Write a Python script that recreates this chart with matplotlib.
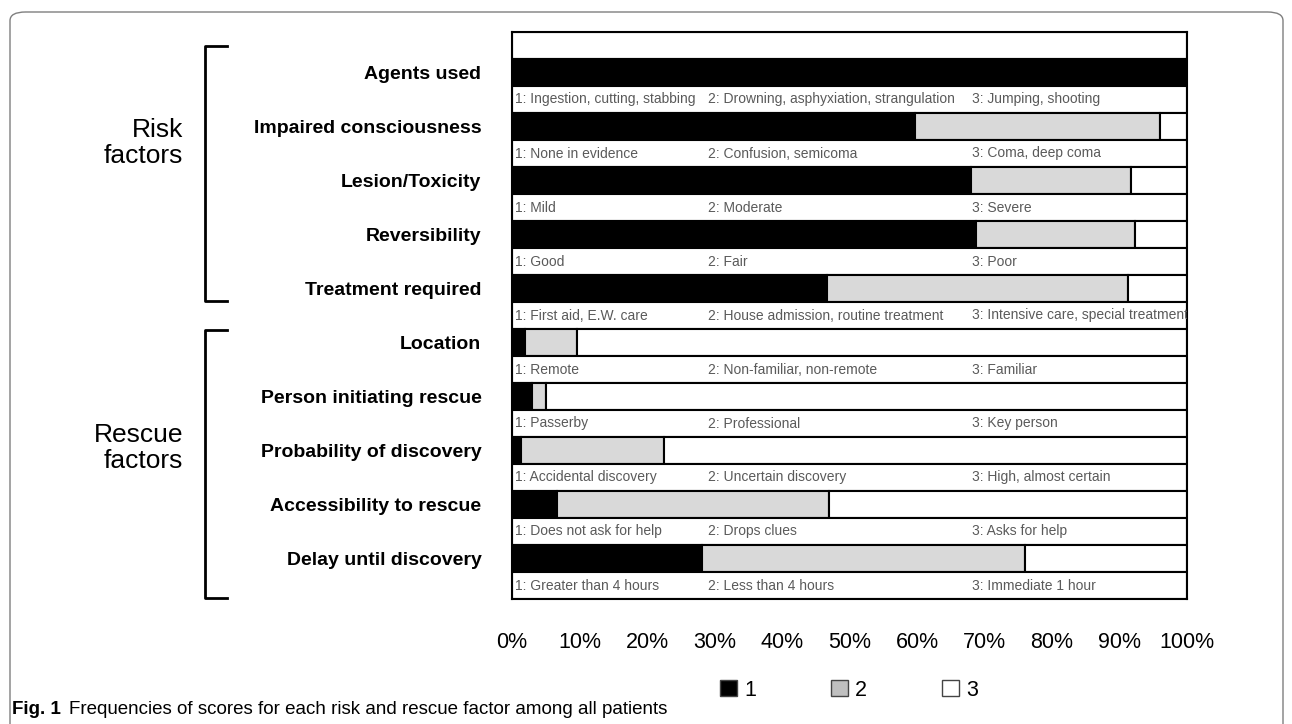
import matplotlib
matplotlib.use('Agg')
import matplotlib.pyplot as plt
import matplotlib.transforms as mtransforms
from matplotlib.patches import Patch, FancyBboxPatch
from matplotlib.lines import Line2D

plt.rcParams['font.family'] = ['Liberation Sans', 'DejaVu Sans']

# factor names (top to bottom)
factors = ['Agents used', 'Impaired consciousness', 'Lesion/Toxicity', 'Reversibility',
           'Treatment required', 'Location', 'Person initiating rescue',
           'Probability of discovery', 'Accessibility to rescue', 'Delay until discovery']
groups = ['Risk\nfactors', 'Rescue\nfactors']
n_risk = 5

# percentage of patients with score 1 / 2 / 3
score1 = [100.0, 59.7, 68.0, 68.7, 46.7, 1.9, 2.9, 1.3, 6.6, 28.1]
score2 = [0.0, 36.3, 23.7, 23.6, 44.6, 7.7, 2.1, 21.2, 40.4, 47.9]
score3 = [0.0, 4.0, 8.3, 7.7, 8.7, 90.4, 95.0, 77.5, 53.0, 24.0]

# meaning of each score, written under every bar
desc1 = ['1: Ingestion, cutting, stabbing', '1: None in evidence', '1: Mild', '1: Good',
         '1: First aid, E.W. care', '1: Remote', '1: Passerby', '1: Accidental discovery',
         '1: Does not ask for help', '1: Greater than 4 hours']
desc2 = ['2: Drowning, asphyxiation, strangulation', '2: Confusion, semicoma', '2: Moderate',
         '2: Fair', '2: House admission, routine treatment', '2: Non-familiar, non-remote',
         '2: Professional', '2: Uncertain discovery', '2: Drops clues', '2: Less than 4 hours']
desc3 = ['3: Jumping, shooting', '3: Coma, deep coma', '3: Severe', '3: Poor',
         '3: Intensive care, special treatment', '3: Familiar', '3: Key person',
         '3: High, almost certain', '3: Asks for help', '3: Immediate 1 hour']

xticks = list(range(0, 101, 10))
xticklabels = [f'{t}%' for t in xticks]

W, H = 1292, 724
fig = plt.figure(figsize=(W / 100, H / 100), dpi=100)
ax = fig.add_axes([512 / W, 1 - 599 / H, 675 / W, 567 / H])

GRAY = '#d9d9d9'
LW = 1.5
bar_y = [1 + 2 * i for i in range(len(factors))]
lab_y = [2 + 2 * i for i in range(len(factors))]

# empty top row
ax.barh(0, 100, height=1, color='white', edgecolor='black', lw=LW)
for i in range(len(factors)):
    y = bar_y[i]
    ax.barh(y, score1[i], left=0, height=1, color='black', edgecolor='black', lw=LW)
    if score2[i] > 0:
        ax.barh(y, score2[i], left=score1[i], height=1, color=GRAY, edgecolor='black', lw=LW)
    if score3[i] > 0:
        ax.barh(y, score3[i], left=score1[i] + score2[i], height=1, color='white',
                edgecolor='black', lw=LW)
    ax.barh(lab_y[i], 100, height=1, color='white', edgecolor='black', lw=LW)
    for xx, txt in zip([0.4, 29.1, 68.1], [desc1[i], desc2[i], desc3[i]]):
        ax.text(xx, lab_y[i], txt, ha='left', va='center', fontsize=10, color='#5a5a5a',
                clip_on=True)

ax.set_xlim(0, 100)
ax.set_ylim(len(factors) * 2 + 0.5, -0.5)
for s in ax.spines.values():
    s.set_linewidth(LW)
    s.set_color('black')
ax.set_xticks(xticks)
ax.set_xticklabels(xticklabels, fontsize=15.5)
ax.set_yticks(bar_y)
ax.set_yticklabels(factors, fontsize=14, fontweight='bold')
ax.tick_params(axis='x', length=0, pad=24)
ax.tick_params(axis='y', length=0, pad=22)

# group brackets
trans = mtransforms.blended_transform_factory(ax.transAxes, ax.transData)
spans = [(0.0, bar_y[n_risk - 1] + 0.45), (bar_y[n_risk] - 0.45, lab_y[-1] + 0.45)]
text_y = [3.6, 14.9]
for (top, bot), name, ty in zip(spans, groups, text_y):
    ax.add_line(Line2D([-0.4222, -0.4548, -0.4548, -0.4222], [top, top, bot, bot],
                       transform=trans, color='black', lw=2, clip_on=False))
    ax.text(-0.487, ty, name, transform=trans, ha='right', va='center', fontsize=19,
            linespacing=1.1)

# legend
handles = [Patch(facecolor=c, edgecolor='#444444', lw=1) for c in ['black', '#bfbfbf', 'white']]
fig.legend(handles, ['1', '2', '3'], ncol=3, loc='center', bbox_to_anchor=(849 / W, 1 - 690 / H),
           frameon=False, fontsize=15.5, handlelength=0.8, handleheight=0.8, handletextpad=0.3,
           columnspacing=3.5)

# outer frame and caption
frame = FancyBboxPatch((10 / W, -0.2), 1273 / W, 1.2 - 12 / H, boxstyle='round,pad=0,rounding_size=0.012',
                       transform=fig.transFigure, facecolor='none', edgecolor='#7f7f7f', lw=1)
fig.add_artist(frame)
cap_y = 1 - 709 / H
t1 = fig.text(12 / W, cap_y, 'Fig. 1', fontsize=13.5, fontweight='bold', va='center')
bb = t1.get_window_extent(renderer=fig.canvas.get_renderer())
fig.text((bb.x1 + 8) / W, cap_y,
         'Frequencies of scores for each risk and rescue factor among all patients',
         fontsize=13.5, va='center')

fig.savefig('out.png', dpi=100)
